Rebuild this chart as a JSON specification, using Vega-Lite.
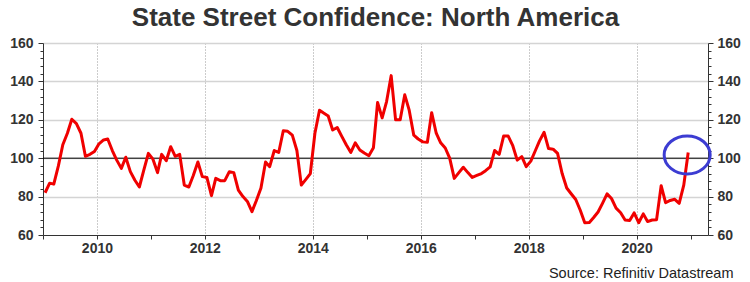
{
  "$schema": "https://vega.github.io/schema/vega-lite/v6.json",
  "width": 665,
  "height": 192,
  "autosize": "none",
  "padding": {"left": 43, "top": 43, "right": 42, "bottom": 47},
  "background": "white",
  "config": {
    "view": {"stroke": null},
    "font": "Liberation Sans",
    "axis": {"labelFont": "Liberation Sans", "titleFont": "Liberation Sans"}
  },
  "title": {
    "text": "State Street Confidence: North America",
    "font": "Liberation Sans",
    "fontSize": 26,
    "fontWeight": "bold",
    "color": "#333333",
    "anchor": "middle",
    "offset": 5
  },
  "datasets": {
    "series": [
      {"date": "2009-01-15", "v": 82}, {"date": "2009-02-15", "v": 87}, {"date": "2009-03-15", "v": 86.5}, {"date": "2009-04-15", "v": 96},
      {"date": "2009-05-15", "v": 107}, {"date": "2009-06-15", "v": 113}, {"date": "2009-07-15", "v": 120.3}, {"date": "2009-08-15", "v": 118},
      {"date": "2009-09-15", "v": 113}, {"date": "2009-10-15", "v": 101}, {"date": "2009-11-15", "v": 102}, {"date": "2009-12-15", "v": 103.5},
      {"date": "2010-01-15", "v": 107.5}, {"date": "2010-02-15", "v": 109.5}, {"date": "2010-03-15", "v": 110}, {"date": "2010-04-15", "v": 104},
      {"date": "2010-05-15", "v": 99}, {"date": "2010-06-15", "v": 94.7}, {"date": "2010-07-15", "v": 100.5}, {"date": "2010-08-15", "v": 93},
      {"date": "2010-09-15", "v": 88.5}, {"date": "2010-10-15", "v": 85}, {"date": "2010-11-15", "v": 94}, {"date": "2010-12-15", "v": 102.5},
      {"date": "2011-01-15", "v": 99.5}, {"date": "2011-02-15", "v": 92.5}, {"date": "2011-03-15", "v": 102}, {"date": "2011-04-15", "v": 98.7},
      {"date": "2011-05-15", "v": 106}, {"date": "2011-06-15", "v": 101}, {"date": "2011-07-15", "v": 102}, {"date": "2011-08-15", "v": 86},
      {"date": "2011-09-15", "v": 85}, {"date": "2011-10-15", "v": 91}, {"date": "2011-11-15", "v": 98}, {"date": "2011-12-15", "v": 90.4},
      {"date": "2012-01-15", "v": 90}, {"date": "2012-02-15", "v": 80.5}, {"date": "2012-03-15", "v": 89.5}, {"date": "2012-04-15", "v": 88.3},
      {"date": "2012-05-15", "v": 88.3}, {"date": "2012-06-15", "v": 93}, {"date": "2012-07-15", "v": 92.5}, {"date": "2012-08-15", "v": 83.4},
      {"date": "2012-09-15", "v": 80}, {"date": "2012-10-15", "v": 77.5}, {"date": "2012-11-15", "v": 72.2}, {"date": "2012-12-15", "v": 78},
      {"date": "2013-01-15", "v": 84.5}, {"date": "2013-02-15", "v": 98}, {"date": "2013-03-15", "v": 95.6}, {"date": "2013-04-15", "v": 104},
      {"date": "2013-05-15", "v": 103}, {"date": "2013-06-15", "v": 114.3}, {"date": "2013-07-15", "v": 114}, {"date": "2013-08-15", "v": 112},
      {"date": "2013-09-15", "v": 104}, {"date": "2013-10-15", "v": 86}, {"date": "2013-11-15", "v": 89}, {"date": "2013-12-15", "v": 92},
      {"date": "2014-01-15", "v": 113}, {"date": "2014-02-15", "v": 125}, {"date": "2014-03-15", "v": 123.5}, {"date": "2014-04-15", "v": 122},
      {"date": "2014-05-15", "v": 114.7}, {"date": "2014-06-15", "v": 116}, {"date": "2014-07-15", "v": 111.5}, {"date": "2014-08-15", "v": 107},
      {"date": "2014-09-15", "v": 103}, {"date": "2014-10-15", "v": 108}, {"date": "2014-11-15", "v": 104.3}, {"date": "2014-12-15", "v": 102.7},
      {"date": "2015-01-15", "v": 101.3}, {"date": "2015-02-15", "v": 105.5}, {"date": "2015-03-15", "v": 129}, {"date": "2015-04-15", "v": 121},
      {"date": "2015-05-15", "v": 129.5}, {"date": "2015-06-15", "v": 143}, {"date": "2015-07-15", "v": 120}, {"date": "2015-08-15", "v": 120},
      {"date": "2015-09-15", "v": 133}, {"date": "2015-10-15", "v": 125}, {"date": "2015-11-15", "v": 112}, {"date": "2015-12-15", "v": 110},
      {"date": "2016-01-15", "v": 108.5}, {"date": "2016-02-15", "v": 108.3}, {"date": "2016-03-15", "v": 123.7}, {"date": "2016-04-15", "v": 113},
      {"date": "2016-05-15", "v": 108}, {"date": "2016-06-15", "v": 105.3}, {"date": "2016-07-15", "v": 100}, {"date": "2016-08-15", "v": 89.5},
      {"date": "2016-09-15", "v": 92.5}, {"date": "2016-10-15", "v": 95.3}, {"date": "2016-11-15", "v": 92.5}, {"date": "2016-12-15", "v": 90},
      {"date": "2017-01-15", "v": 91}, {"date": "2017-02-15", "v": 92}, {"date": "2017-03-15", "v": 93.5}, {"date": "2017-04-15", "v": 95.5},
      {"date": "2017-05-15", "v": 104}, {"date": "2017-06-15", "v": 102}, {"date": "2017-07-15", "v": 111.5}, {"date": "2017-08-15", "v": 111.5},
      {"date": "2017-09-15", "v": 106.5}, {"date": "2017-10-15", "v": 99}, {"date": "2017-11-15", "v": 100.8}, {"date": "2017-12-15", "v": 95.6},
      {"date": "2018-01-15", "v": 98.5}, {"date": "2018-02-15", "v": 104}, {"date": "2018-03-15", "v": 109}, {"date": "2018-04-15", "v": 113.5},
      {"date": "2018-05-15", "v": 105}, {"date": "2018-06-15", "v": 104.7}, {"date": "2018-07-15", "v": 102.5}, {"date": "2018-08-15", "v": 92},
      {"date": "2018-09-15", "v": 84.5}, {"date": "2018-10-15", "v": 81.5}, {"date": "2018-11-15", "v": 78.5}, {"date": "2018-12-15", "v": 73},
      {"date": "2019-01-15", "v": 66.4}, {"date": "2019-02-15", "v": 66.5}, {"date": "2019-03-15", "v": 69}, {"date": "2019-04-15", "v": 72},
      {"date": "2019-05-15", "v": 76.5}, {"date": "2019-06-15", "v": 81.4}, {"date": "2019-07-15", "v": 79}, {"date": "2019-08-15", "v": 74},
      {"date": "2019-09-15", "v": 71.6}, {"date": "2019-10-15", "v": 67.8}, {"date": "2019-11-15", "v": 67.5}, {"date": "2019-12-15", "v": 71.5},
      {"date": "2020-01-15", "v": 66.4}, {"date": "2020-02-15", "v": 71}, {"date": "2020-03-15", "v": 67}, {"date": "2020-04-15", "v": 67.8},
      {"date": "2020-05-15", "v": 68}, {"date": "2020-06-15", "v": 85.7}, {"date": "2020-07-15", "v": 76.8}, {"date": "2020-08-15", "v": 78},
      {"date": "2020-09-15", "v": 78.6}, {"date": "2020-10-15", "v": 76.5}, {"date": "2020-11-15", "v": 86}, {"date": "2020-12-15", "v": 103}
    ],
    "highlight": [{"date": "2020-12-08", "v": 101.7}],
    "ref": [{"level": 100}]
  },
  "resolve": {"scale": {"y": "independent"}},
  "layer": [
    {
      "data": {"name": "ref"},
      "mark": {"type": "rule", "color": "#000000", "strokeWidth": 1},
      "encoding": {
        "y": {
          "field": "level",
          "type": "quantitative",
          "scale": {"domain": [60, 160], "nice": false, "zero": false},
          "axis": {
            "orient": "left",
            "title": null,
            "values": [60, 64, 68, 72, 76, 80, 84, 88, 92, 96, 100, 104, 108, 112, 116, 120, 124, 128, 132, 136, 140, 144, 148, 152, 156, 160],
            "labelExpr": "datum.value % 20 === 0 ? datum.label : ''",
            "labelOverlap": false,
            "labelFontSize": 14,
            "labelFontWeight": "bold",
            "labelColor": "#333333",
            "labelPadding": 5,
            "domainColor": "#333333",
            "domainWidth": 1,
            "tickColor": "#333333",
            "tickSize": {"condition": {"test": "datum.value % 20 === 0", "value": 5}, "value": 3},
            "grid": true,
            "gridColor": "#d4d4d4",
            "gridWidth": 1.5,
            "gridOpacity": {"condition": {"test": "datum.value % 20 === 0 && datum.value !== 60", "value": 1}, "value": 0}
          }
        }
      }
    },
    {
      "data": {"name": "series"},
      "mark": {"type": "line", "color": "#f00000", "strokeWidth": 3, "strokeJoin": "round"},
      "encoding": {
        "x": {
          "field": "date",
          "type": "temporal",
          "scale": {"domain": [{"year": 2009, "month": 1, "date": 1}, {"year": 2021, "month": 4, "date": 28}]},
          "axis": {
            "title": "Source: Refinitiv Datastream",
            "titleFontSize": 14.5,
            "titleFontWeight": "normal",
            "titleColor": "#222222",
            "titleAnchor": "end",
            "titleAlign": "right",
            "titleBaseline": "alphabetic",
            "titleX": 690,
            "titleY": 42,
            "values": [
              {"year": 2009, "month": 1, "date": 1}, {"year": 2009, "month": 4, "date": 1}, {"year": 2009, "month": 7, "date": 1}, {"year": 2009, "month": 10, "date": 1},
              {"year": 2010, "month": 1, "date": 1}, {"year": 2010, "month": 4, "date": 1}, {"year": 2010, "month": 7, "date": 1}, {"year": 2010, "month": 10, "date": 1},
              {"year": 2011, "month": 1, "date": 1}, {"year": 2011, "month": 4, "date": 1}, {"year": 2011, "month": 7, "date": 1}, {"year": 2011, "month": 10, "date": 1},
              {"year": 2012, "month": 1, "date": 1}, {"year": 2012, "month": 4, "date": 1}, {"year": 2012, "month": 7, "date": 1}, {"year": 2012, "month": 10, "date": 1},
              {"year": 2013, "month": 1, "date": 1}, {"year": 2013, "month": 4, "date": 1}, {"year": 2013, "month": 7, "date": 1}, {"year": 2013, "month": 10, "date": 1},
              {"year": 2014, "month": 1, "date": 1}, {"year": 2014, "month": 4, "date": 1}, {"year": 2014, "month": 7, "date": 1}, {"year": 2014, "month": 10, "date": 1},
              {"year": 2015, "month": 1, "date": 1}, {"year": 2015, "month": 4, "date": 1}, {"year": 2015, "month": 7, "date": 1}, {"year": 2015, "month": 10, "date": 1},
              {"year": 2016, "month": 1, "date": 1}, {"year": 2016, "month": 4, "date": 1}, {"year": 2016, "month": 7, "date": 1}, {"year": 2016, "month": 10, "date": 1},
              {"year": 2017, "month": 1, "date": 1}, {"year": 2017, "month": 4, "date": 1}, {"year": 2017, "month": 7, "date": 1}, {"year": 2017, "month": 10, "date": 1},
              {"year": 2018, "month": 1, "date": 1}, {"year": 2018, "month": 4, "date": 1}, {"year": 2018, "month": 7, "date": 1}, {"year": 2018, "month": 10, "date": 1},
              {"year": 2019, "month": 1, "date": 1}, {"year": 2019, "month": 4, "date": 1}, {"year": 2019, "month": 7, "date": 1}, {"year": 2019, "month": 10, "date": 1},
              {"year": 2020, "month": 1, "date": 1}, {"year": 2020, "month": 4, "date": 1}, {"year": 2020, "month": 7, "date": 1}, {"year": 2020, "month": 10, "date": 1},
              {"year": 2021, "month": 1, "date": 1}, {"year": 2021, "month": 4, "date": 1}
            ],
            "labelExpr": "(month(datum.value) === 0 && year(datum.value) % 2 === 0) ? timeFormat(datum.value, '%Y') : ''",
            "labelOverlap": false,
            "labelFlush": false,
            "labelFontSize": 14,
            "labelFontWeight": "bold",
            "labelColor": "#333333",
            "labelPadding": 2,
            "domainColor": "#333333",
            "domainWidth": 1,
            "tickColor": "#333333",
            "tickSize": 4,
            "grid": true,
            "gridColor": "#999999",
            "gridWidth": 1,
            "gridDash": [1, 2],
            "gridOpacity": {"condition": {"test": "month(datum.value) === 0 && year(datum.value) % 2 === 0", "value": 1}, "value": 0}
          }
        },
        "y": {
          "field": "v",
          "type": "quantitative",
          "scale": {"domain": [60, 160], "nice": false, "zero": false},
          "axis": {
            "orient": "right",
            "title": null,
            "values": [60, 64, 68, 72, 76, 80, 84, 88, 92, 96, 100, 104, 108, 112, 116, 120, 124, 128, 132, 136, 140, 144, 148, 152, 156, 160],
            "labelExpr": "datum.value % 20 === 0 ? datum.label : ''",
            "labelOverlap": false,
            "labelFontSize": 14,
            "labelFontWeight": "bold",
            "labelColor": "#333333",
            "labelPadding": 4,
            "domainColor": "#333333",
            "domainWidth": 1,
            "tickColor": "#333333",
            "tickSize": {"condition": {"test": "datum.value % 20 === 0", "value": 5}, "value": 3},
            "grid": false
          }
        }
      }
    },
    {
      "data": {"name": "highlight"},
      "mark": {
        "type": "point",
        "shape": "M -1 0 A 1 0.826 0 1 0 1 0 A 1 0.826 0 1 0 -1 0 Z",
        "filled": false,
        "color": "#3c3cd2",
        "strokeWidth": 3,
        "size": 2116,
        "opacity": 1
      },
      "encoding": {
        "x": {"field": "date", "type": "temporal"},
        "y": {"field": "v", "type": "quantitative", "scale": {"domain": [60, 160], "nice": false, "zero": false}, "axis": null}
      }
    }
  ]
}
